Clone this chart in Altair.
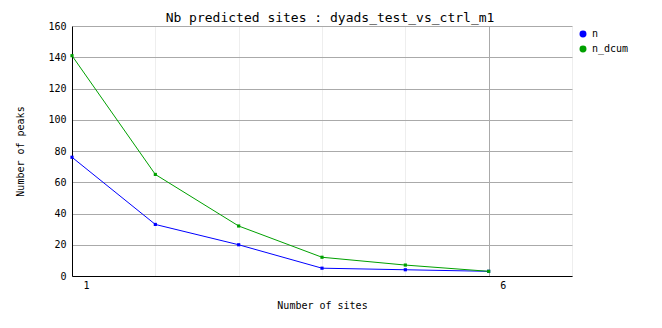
import altair as alt
import pandas as pd

sites = [1, 2, 3, 4, 5, 6]
n_vals = [76, 33, 20, 5, 4, 3]
n_dcum_vals = [141, 65, 32, 12, 7, 3]
series_names = ["n", "n_dcum"]
series_colors = ["#0000ff", "#00a000"]

rows = []
for s, a, b in zip(sites, n_vals, n_dcum_vals):
    rows.append({"sites": s, "peaks": a, "series": "n"})
    rows.append({"sites": s, "peaks": b, "series": "n_dcum"})
df = pd.DataFrame(rows)

FONT = "DejaVu Sans Mono"

x_enc = alt.X(
    "sites:Q",
    scale=alt.Scale(domain=[1, 7], nice=False, zero=False),
    axis=alt.Axis(
        title="Number of sites",
        values=[1, 2, 3, 4, 5, 6, 7],
        labelExpr="(datum.value == 1 || datum.value == 6) ? datum.label : ''",
        labelOffset=14,
        labelFlush=False,
        labelPadding=4,
        ticks=False,
        domainColor="black",
        gridColor={"condition": {"test": "datum.value == 6", "value": "#aaaaaa"}, "value": "#eeeeee"},
        titlePadding=10,
        labelFont=FONT,
        labelFontSize=10,
        titleFont=FONT,
        titleFontSize=10,
        titleFontWeight="normal",
        labelColor="black",
        titleColor="black",
    ),
)
y_enc = alt.Y(
    "peaks:Q",
    scale=alt.Scale(domain=[0, 160], nice=False),
    axis=alt.Axis(
        title="Number of peaks",
        values=[0, 20, 40, 60, 80, 100, 120, 140, 160],
        ticks=False,
        domainColor="black",
        gridColor="#aaaaaa",
        labelPadding=6,
        titlePadding=22,
        labelFont=FONT,
        labelFontSize=10,
        titleFont=FONT,
        titleFontSize=10,
        titleFontWeight="normal",
        labelColor="black",
        titleColor="black",
    ),
)
color_enc = alt.Color(
    "series:N",
    scale=alt.Scale(domain=series_names, range=series_colors),
    legend=alt.Legend(
        title=None,
        orient="none",
        legendX=506,
        legendY=3,
        symbolType="circle",
        symbolSize=30,
        labelFontSize=10,
        labelFont=FONT,
        labelColor="black",
        rowPadding=3,
    ),
)

base = alt.Chart(df).encode(x=x_enc, y=y_enc, color=color_enc)
lines = base.mark_line(strokeWidth=1)
points = base.mark_square(size=10, opacity=1, filled=True)

chart = (
    alt.layer(lines, points)
    .properties(
        width=500,
        height=250,
        background="white",
        title=alt.TitleParams(
            "Nb predicted sites : dyads_test_vs_ctrl_m1",
            font=FONT,
            fontSize=13,
            fontWeight="normal",
            color="black",
            dx=8,
            offset=-4,
        ),
        autosize=alt.AutoSizeParams(type="none"),
        padding={"left": 72, "top": 26, "right": 90, "bottom": 52},
    )
    .configure_view(stroke=None)
)

chart.save("out.html", embed_options={"renderer": "svg", "actions": False})
